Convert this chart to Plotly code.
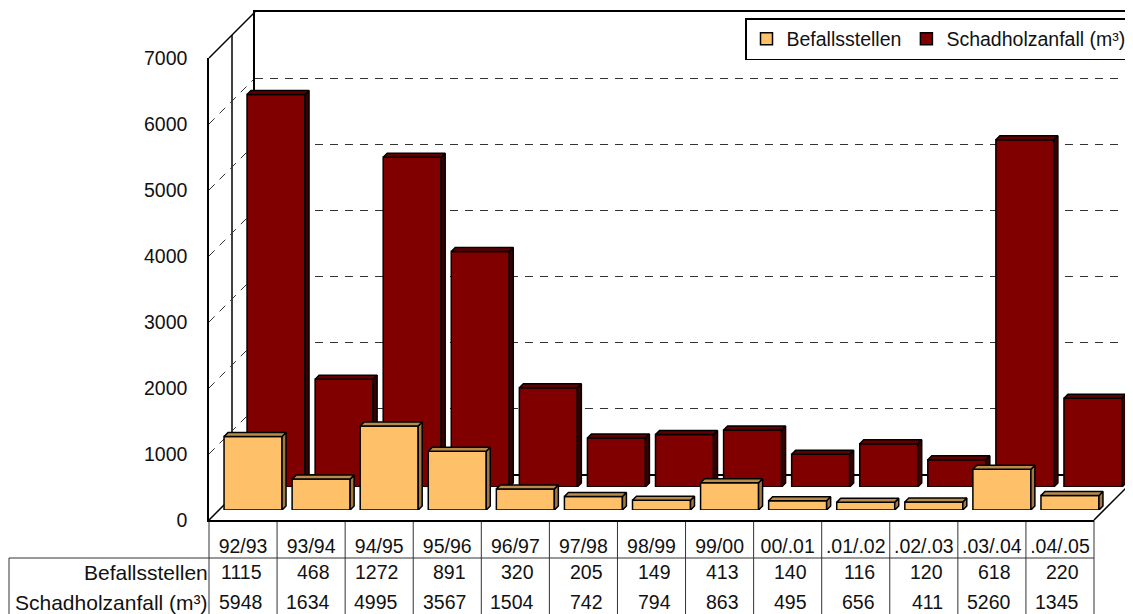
import plotly.graph_objects as go

categories = ["92/93", "93/94", "94/95", "95/96", "96/97", "97/98", "98/99", "99/00",
              "00/.01", ".01/.02", ".02/.03", ".03/.04", ".04/.05"]
befall = [1115, 468, 1272, 891, 320, 205, 149, 413, 140, 116, 120, 618, 220]
schadholz = [5948, 1634, 4995, 3567, 1504, 742, 794, 863, 495, 656, 411, 5260, 1345]
y_ticks = [0, 1000, 2000, 3000, 4000, 5000, 6000, 7000]

OFFSET = 8                            # the page's body margin
W, H = 1133 - OFFSET, 614 - OFFSET
FONT = "Liberation Sans"
FS = 19.5
FS_TEXT = 21
FS_LEGEND = 19.5
L, R, B, T = 209, 1094, 520, 58       # front frame in window pixels
WALL, DEPTH_BACK, DEPTH_FRONT = 46, 33, 10
BAR_W = 58 / ((R - L) / 13)
DX = 4 / ((R - L) / 13)
DY = 4 / ((B - T) / 7000)
idx = [i + 0.5 for i in range(13)]
DASH = "8px,7px"


def px(v):
    return (v - OFFSET) / W


def py(v):
    return 1 - (v - OFFSET) / H


def dom_x(shift):
    return [px(L + shift), min(px(R + shift), 1)]


def dom_y(shift):
    return [py(B - shift), py(T - shift)]


def faces(values):
    top_x, top_y, side_x, side_y = [], [], [], []
    for c, v in zip(idx, values):
        a, b = c - BAR_W / 2, c + BAR_W / 2
        top_x += [a, b, b + DX, a + DX, a, None]
        top_y += [v, v, v + DY, v + DY, v, None]
        side_x += [b, b + DX, b + DX, b, b, None]
        side_y += [v, v + DY, DY, 0, v, None]
    return top_x, top_y, side_x, side_y


def bars(name, values, axis, face, top, side):
    xa, ya = f"x{axis}", f"y{axis}"
    tx, ty, sx, sy = faces(values)
    line = dict(color="black", width=1.5)
    return [
        go.Bar(x=idx, y=values, name=name, width=BAR_W, xaxis=xa, yaxis=ya, cliponaxis=False,
               marker=dict(color=face, line=line)),
        go.Scatter(x=sx, y=sy, mode="lines", fill="toself", fillcolor=side, line=line,
                   xaxis=xa, yaxis=ya, showlegend=False, hoverinfo="skip", cliponaxis=False),
        go.Scatter(x=tx, y=ty, mode="lines", fill="toself", fillcolor=top, line=line,
                   xaxis=xa, yaxis=ya, showlegend=False, hoverinfo="skip", cliponaxis=False),
    ]


hidden = dict(mode="markers", marker=dict(opacity=0), showlegend=False, hoverinfo="skip")
traces = [go.Scatter(x=idx, y=schadholz, xaxis="x", yaxis="y", **hidden)]
traces += bars("Schadholzanfall (m³)", schadholz, 2, "#800000", "#620000", "#3a0000")
traces += bars("Befallsstellen", befall, 3, "#FFC06A", "#B98B4C", "#A07A42")
traces += [go.Scatter(x=idx, y=befall, xaxis="x4", yaxis="y4", **hidden)]

fig = go.Figure(traces)

off = dict(visible=False, fixedrange=True)
line = dict(color="black", width=1.5)
shapes = []


def seg(x0, y0, x1, y1, **kw):
    shapes.append(dict(type="line", xref="paper", yref="paper", x0=px(x0), y0=py(y0), x1=px(x1),
                       y1=py(y1), layer=kw.get("layer", "below"),
                       line=kw.get("line", line)))


# side wall and floor outline
seg(L + 23, T - 23, L + 23, B - 23)
seg(L, T, L + WALL, T - WALL)
seg(L, B, L + WALL, B - WALL)
seg(R, B, 1133, B - (1133 - R))
unit = (B - T) / 7000
for t in y_ticks[1:-1]:
    yy = B - t * unit
    seg(L, yy, L + WALL, yy - WALL, line=dict(color="#333333", width=1, dash=DASH))

# data table rules
tline = dict(color="#333333", width=1)
seg(9, 558, R, 558, line=tline)
seg(9, 558, 9, 614, line=tline)
for i in range(14):
    seg(L + i * (R - L) / 13, B, L + i * (R - L) / 13, 614, line=tline)

annotations = []
for row_y, label, values in [(572, "Befallsstellen", befall), (602, "Schadholzanfall (m³)", schadholz)]:
    annotations.append(dict(text=label, xref="paper", yref="paper", x=px(L + 1), y=py(row_y),
                            xanchor="right", yanchor="middle", showarrow=False,
                            font=dict(size=FS_TEXT)))
    for c, v in zip(idx, values):
        annotations.append(dict(text=str(v), xref="x4", yref="paper", x=c + 0.31, y=py(row_y),
                                xanchor="right", yanchor="middle", showarrow=False))

fig.update_layout(
    width=W, height=H, margin=dict(l=0, r=0, t=0, b=0, autoexpand=False), autosize=False,
    paper_bgcolor="white", plot_bgcolor="rgba(0,0,0,0)", barmode="overlay",
    font=dict(family=FONT, size=FS, color="#111111"),
    shapes=shapes, annotations=annotations,
    legend=dict(orientation="h", x=px(745), y=py(18), xanchor="left", yanchor="top",
                bgcolor="white", bordercolor="black", borderwidth=1.5, traceorder="reversed",
                font=dict(family=FONT, size=FS_LEGEND, color="#111111"), itemwidth=30),
    # back wall
    xaxis=dict(domain=[px(L + WALL), 1], range=[0, 13], anchor="y", showline=True, mirror=True,
               linecolor="black", linewidth=1.5, showticklabels=False, ticks="", showgrid=False,
               zeroline=False, fixedrange=True),
    yaxis=dict(domain=dom_y(WALL), range=[0, 7000], anchor="x", showline=True, mirror=False,
               linecolor="black", linewidth=1.5, showticklabels=False, ticks="", tickvals=y_ticks,
               showgrid=True, gridcolor="#333333", griddash=DASH, gridwidth=1, zeroline=False,
               fixedrange=True),
    xaxis2=dict(domain=dom_x(DEPTH_BACK), range=[0, 13], anchor="y2", **off),
    yaxis2=dict(domain=dom_y(DEPTH_BACK), range=[0, 7000], anchor="x2", **off),
    xaxis3=dict(domain=dom_x(DEPTH_FRONT), range=[0, 13], anchor="y3", **off),
    yaxis3=dict(domain=dom_y(DEPTH_FRONT), range=[0, 7000], anchor="x3", **off),
    # front frame with the value axis and category labels
    xaxis4=dict(domain=dom_x(0), range=[0, 13], anchor="y4", showline=True, linecolor="black",
                linewidth=1.5, tickvals=idx, ticktext=categories, ticks="outside", ticklen=8,
                tickcolor="rgba(0,0,0,0)", showgrid=False, zeroline=False, fixedrange=True,
                tickangle=0),
    yaxis4=dict(domain=dom_y(0), range=[0, 7000], anchor="x4", showline=True, linecolor="black",
                linewidth=1.5, tickvals=y_ticks, ticks="outside", ticklen=16,
                tickcolor="rgba(0,0,0,0)", showgrid=False, zeroline=False, fixedrange=True),
)

fig.write_html("out.html")
